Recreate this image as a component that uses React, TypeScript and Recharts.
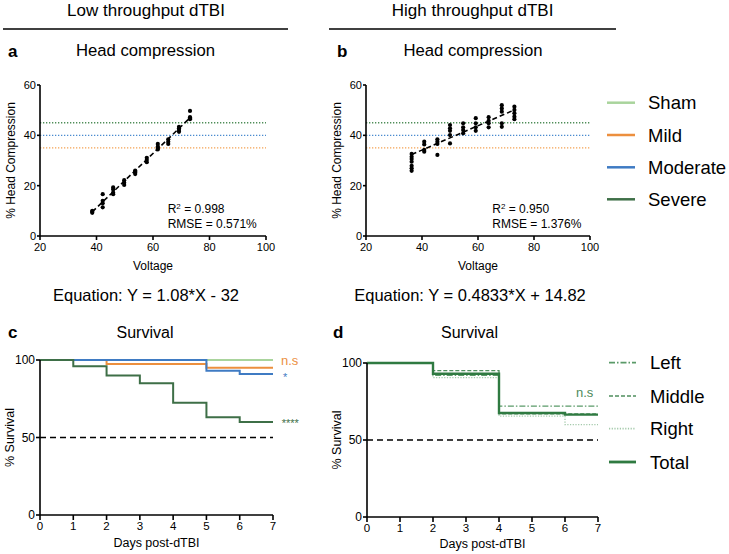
import React from "react"
import {
    Line,
    LineChart,
    ReferenceLine,
    Scatter,
    ScatterChart,
    XAxis,
    YAxis,
} from "recharts"

const font = '"Liberation Sans", Arial, Helvetica, sans-serif'

// a: low throughput, % head compression per voltage
const lowVoltages = [38.5, 42.2, 45.9, 49.8, 53.7, 57.8, 61.7, 65.4, 69.2, 73.1]
const lowCompression = [
    [9.2, 9.6, 10.0],
    [11.4, 13.0, 14.0, 16.6],
    [16.6, 17.2, 18.5, 19.3],
    [20.3, 21.2, 22.2],
    [24.6, 25.2, 25.6, 26.0],
    [29.3, 30.2, 31.1],
    [34.4, 35.0, 35.5, 36.6],
    [36.6, 37.5, 38.4],
    [41.4, 42.1, 42.8, 43.4],
    [46.4, 46.8, 47.2, 49.7],
]
const lowFit = { slope: 1.08, intercept: -32, from: 38.5, to: 73.1 }

// b: high throughput
const highVoltages = [36.3, 40.8, 45.5, 50, 54.7, 59.2, 63.8, 68.5, 73]
const highCompression = [
    [25.9, 26.9, 27.9, 29.5, 30.6, 31.5, 32.6],
    [33.5, 34.2, 36.4, 37.5],
    [32.2, 36.6, 37.5, 38.4],
    [36.8, 40.1, 41.8, 42.8, 44.1],
    [40.8, 42.1, 43.2, 44.8],
    [41.8, 43.2, 44.8, 46.8],
    [43.2, 44.8, 45.8, 47.2],
    [43.4, 44.8, 49.4, 50.7, 52.0],
    [46.4, 47.4, 48.8, 50.1, 51.4],
]
const highFit = { slope: 0.4833, intercept: 14.82, from: 36.3, to: 73 }

const voltageTicks = [20, 40, 60, 80, 100]
const compressionTicks = [0, 20, 40, 60]
const severityThresholds = [45, 40, 35]
const thresholdColors = ["#4f8d58", "#4a8bcf", "#f3a253"]

const severityNames = ["Sham", "Mild", "Moderate", "Severe"]
const severityColors = ["#a9d49c", "#ec8f3e", "#3f7bc3", "#3e6f47"]

// c / d: survival per day (step curves)
const days = [0, 1, 2, 3, 4, 5, 6, 7]
const shamSurvival = [100, 100, 100, 100, 100, 100, 100, 100]
const mildSurvival = [100, 100, 97.5, 97.5, 97.5, 95, 95, 95]
const moderateSurvival = [100, 100, 100, 100, 100, 93, 91, 91]
const severeSurvival = [100, 96, 90, 85, 72.5, 63, 60, 60]

const leftSurvival = [100, 100, 92, 92, 72, 72, 72, 72]
const middleSurvival = [100, 100, 95, 95, 67, 67, 67, 67]
const rightSurvival = [100, 100, 90.5, 90.5, 65.5, 65.5, 60, 60]
const totalSurvival = [100, 100, 93, 93, 67.5, 67.5, 66.5, 66.5]

const sideNames = ["Left", "Middle", "Right", "Total"]
const sideColors = ["#5a9a68", "#4f8f5e", "#a3c9aa", "#2f7a41"]
const sideDash = ["6 2 1.5 2", "4 2", "1.2 1.5", ""]
const sideWidth = [1.3, 1.3, 1.3, 2.4]

const survivalTicks = [0, 50, 100]

const lowPoints = lowVoltages.flatMap((v, i) =>
    lowCompression[i].map((y) => ({ x: v, y }))
)
const highPoints = highVoltages.flatMap((v, i) =>
    highCompression[i].map((y) => ({ x: v, y }))
)
const fitLine = (f: typeof lowFit) => [
    { x: f.from, y: f.slope * f.from + f.intercept },
    { x: f.to, y: f.slope * f.to + f.intercept },
]

const severityTable = days.map((d, i) => ({
    day: d,
    sham: shamSurvival[i],
    mild: mildSurvival[i],
    moderate: moderateSurvival[i],
    severe: severeSurvival[i],
}))
const sideTable = days.map((d, i) => ({
    day: d,
    left: leftSurvival[i],
    middle: middleSurvival[i],
    right: rightSurvival[i],
    total: totalSurvival[i],
}))

const axisLine = { stroke: "#000", strokeWidth: 1.6 }
const tickLine = { stroke: "#000", strokeWidth: 1.6 }

const Dot = (p: any) => <circle cx={p.cx} cy={p.cy} r={2.1} fill="#000" />
const NoDot = () => <g />

const CompressionPanel = ({
    left,
    points,
    fit,
    right,
}: {
    left: number
    points: { x: number; y: number }[]
    fit: typeof lowFit
    right: number
}) => (
    <div style={{ position: "absolute", left, top: 60 }}>
        <ScatterChart
            width={290}
            height={220}
            margin={{ top: 25, right, bottom: 0, left: 0 }}
        >
            <XAxis
                type="number"
                dataKey="x"
                domain={[20, 100]}
                ticks={voltageTicks}
                height={44}
                axisLine={axisLine}
                tickLine={tickLine}
                tickSize={4}
                tickMargin={3}
                tick={{ fill: "#000", fontSize: 11, fontFamily: font }}
                label={{
                    value: "Voltage",
                    position: "insideBottom",
                    offset: 10,
                    fill: "#000",
                    fontSize: 12,
                    fontFamily: font,
                }}
            />
            <YAxis
                type="number"
                dataKey="y"
                domain={[0, 60]}
                ticks={compressionTicks}
                width={40}
                axisLine={axisLine}
                tickLine={tickLine}
                tickSize={3}
                tickMargin={1}
                tick={{ fill: "#000", fontSize: 11, fontFamily: font }}
                label={{
                    value: "% Head Compression",
                    angle: -90,
                    position: "insideLeft",
                    offset: 11,
                    textAnchor: "middle",
                    fill: "#000",
                    fontSize: 12,
                    fontFamily: font,
                }}
            />
            {severityThresholds.map((t, i) => (
                <ReferenceLine
                    key={t}
                    y={t}
                    stroke={thresholdColors[i]}
                    strokeWidth={1.3}
                    strokeDasharray="1.3 1.7"
                />
            ))}
            <Scatter data={points} shape={Dot} isAnimationActive={false} />
            <Scatter
                data={fitLine(fit)}
                shape={NoDot}
                line={{ stroke: "#000", strokeWidth: 1.6, strokeDasharray: "5 3" }}
                isAnimationActive={false}
            />
        </ScatterChart>
    </div>
)

const survivalAxes = (labelOffset: number) => [
    <XAxis
        key="x"
        type="number"
        dataKey="day"
        domain={[0, 7]}
        ticks={days}
        height={40}
        axisLine={axisLine}
        tickLine={tickLine}
        tickSize={5}
        tickMargin={2}
        tick={{ fill: "#000", fontSize: 11.5, fontFamily: font }}
        label={{
            value: "Days post-dTBI",
            position: "insideBottom",
            offset: labelOffset,
            fill: "#000",
            fontSize: 12.5,
            fontFamily: font,
        }}
    />,
    <YAxis
        key="y"
        type="number"
        domain={[0, 100]}
        ticks={survivalTicks}
        width={40}
        axisLine={axisLine}
        tickLine={tickLine}
        tickSize={4}
        tickMargin={1}
        tick={{ fill: "#000", fontSize: 12, fontFamily: font }}
        label={{
            value: "% Survival",
            angle: -90,
            position: "insideLeft",
            offset: 10,
            textAnchor: "middle",
            fill: "#000",
            fontSize: 12.5,
            fontFamily: font,
        }}
    />,
    <ReferenceLine
        key="half"
        y={50}
        stroke="#000"
        strokeWidth={1.6}
        strokeDasharray="6 4"
    />,
]

const severityKeys = ["sham", "mild", "moderate", "severe"]
const sideKeys = ["left", "middle", "right", "total"]

const Label = ({
    x,
    y,
    children,
    size = 12,
    anchor = "start",
    bold = false,
    color = "#000",
}: {
    x: number
    y: number
    children: React.ReactNode
    size?: number
    anchor?: "start" | "middle" | "end"
    bold?: boolean
    color?: string
}) => (
    <text
        x={x}
        y={y}
        fontSize={size}
        textAnchor={anchor}
        fontWeight={bold ? "bold" : "normal"}
        fill={color}
        fontFamily={font}
    >
        {children}
    </text>
)

const legendRowsTop = [102.7, 135, 167.3, 199.3]
const legendRowsBottom = [362.7, 396, 428.7, 462]

export default function App() {
    return (
        <div
            style={{
                position: "absolute",
                left: 0,
                top: 0,
                width: 729,
                height: 554,
                background: "#fff",
                fontFamily: font,
            }}
        >
            <CompressionPanel left={0} points={lowPoints} fit={lowFit} right={24} />
            <CompressionPanel left={326} points={highPoints} fit={highFit} right={26} />

            <div style={{ position: "absolute", left: 0, top: 335 }}>
                <LineChart
                    width={300}
                    height={220}
                    data={severityTable}
                    margin={{ top: 25, right: 27, bottom: 0, left: 0 }}
                >
                    {survivalAxes(8.5)}
                    {severityKeys.map((k, i) => (
                        <Line
                            key={k}
                            type="stepAfter"
                            dataKey={k}
                            stroke={severityColors[i]}
                            strokeWidth={2}
                            dot={false}
                            isAnimationActive={false}
                        />
                    ))}
                </LineChart>
            </div>

            <div style={{ position: "absolute", left: 327, top: 338 }}>
                <LineChart
                    width={300}
                    height={219}
                    data={sideTable}
                    margin={{ top: 25, right: 29, bottom: 0, left: 0 }}
                >
                    {survivalAxes(9.5)}
                    {sideKeys.map((k, i) => (
                        <Line
                            key={k}
                            type="stepAfter"
                            dataKey={k}
                            stroke={sideColors[i]}
                            strokeWidth={sideWidth[i]}
                            strokeDasharray={sideDash[i] || undefined}
                            dot={false}
                            isAnimationActive={false}
                        />
                    ))}
                </LineChart>
            </div>

            <svg
                width={729}
                height={554}
                style={{ position: "absolute", left: 0, top: 0, pointerEvents: "none" }}
            >
                <Label x={146} y={15.5} size={17} anchor="middle">
                    Low throughput dTBI
                </Label>
                <Label x={472.6} y={15.5} size={17} anchor="middle">
                    High throughput dTBI
                </Label>
                <line x1={3} x2={288} y1={29} y2={29} stroke="#000" strokeWidth={1.6} />
                <line x1={329} x2={616} y1={29} y2={29} stroke="#000" strokeWidth={1.6} />

                <Label x={8} y={56.7} size={17} bold>
                    a
                </Label>
                <Label x={145.5} y={55.5} size={16.7} anchor="middle">
                    Head compression
                </Label>
                <Label x={337} y={56.7} size={17} bold>
                    b
                </Label>
                <Label x={473} y={55.5} size={16.7} anchor="middle">
                    Head compression
                </Label>

                <Label x={167.7} y={213.3}>
                    R<tspan dy={-4} fontSize={8}>2</tspan>
                    <tspan dy={4}> = 0.998</tspan>
                </Label>
                <Label x={167.7} y={228.3}>
                    RMSE = 0.571%
                </Label>
                <Label x={492.3} y={213.3}>
                    R<tspan dy={-4} fontSize={8}>2</tspan>
                    <tspan dy={4}> = 0.950</tspan>
                </Label>
                <Label x={492.3} y={228.3}>
                    RMSE = 1.376%
                </Label>

                <Label x={146} y={300.7} size={16.5} anchor="middle">
                    Equation: Y = 1.08*X - 32
                </Label>
                <Label x={470} y={300.7} size={16.5} anchor="middle">
                    Equation: Y = 0.4833*X + 14.82
                </Label>

                {severityNames.map((n, i) => (
                    <g key={n}>
                        <line
                            x1={607}
                            x2={635}
                            y1={legendRowsTop[i]}
                            y2={legendRowsTop[i]}
                            stroke={severityColors[i]}
                            strokeWidth={2.5}
                        />
                        <Label x={648} y={legendRowsTop[i] + 6.6} size={18.5}>
                            {n}
                        </Label>
                    </g>
                ))}

                <Label x={8} y={338} size={17} bold>
                    c
                </Label>
                <Label x={145} y={338} size={16} anchor="middle">
                    Survival
                </Label>
                <Label x={333} y={338} size={17} bold>
                    d
                </Label>
                <Label x={469.5} y={338} size={16} anchor="middle">
                    Survival
                </Label>

                <Label x={281} y={365} size={13} color={severityColors[1]}>
                    n.s
                </Label>
                <Label x={283} y={380.7} size={11} color={severityColors[2]}>
                    *
                </Label>
                <Label x={281.7} y={427} size={11} color={severityColors[3]}>
                    ****
                </Label>
                <Label x={576} y={396.7} size={13} color="#4d8a5a">
                    n.s
                </Label>

                {sideNames.map((n, i) => (
                    <g key={n}>
                        <line
                            x1={609}
                            x2={636}
                            y1={legendRowsBottom[i]}
                            y2={legendRowsBottom[i]}
                            stroke={sideColors[i]}
                            strokeWidth={sideWidth[i] + 0.4}
                            strokeDasharray={sideDash[i] || undefined}
                        />
                        <Label x={650} y={legendRowsBottom[i] + 6.6} size={18.5}>
                            {n}
                        </Label>
                    </g>
                ))}
            </svg>
        </div>
    )
}
